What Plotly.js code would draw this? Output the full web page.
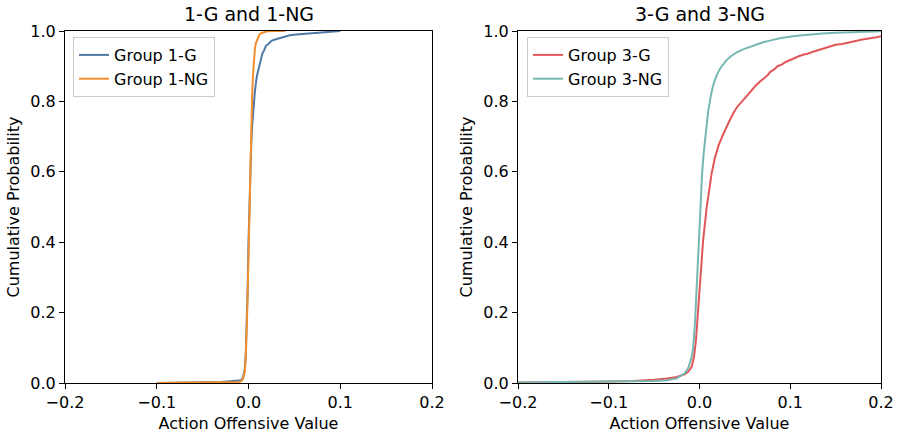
<!DOCTYPE html>
<html>
<head>
<meta charset="utf-8">
<script src="https://cdn.plot.ly/plotly-3.0.1.min.js"></script>
<style>html,body{margin:0;padding:0;background:#fff}#chart{width:898px;height:434px}</style>
</head>
<body>
<div id="chart"></div>
<script>
// Group 1-G (cumulative distribution)
var g1gX = [-0.1, -0.06, -0.03, -0.02, -0.012, -0.008, -0.006, -0.004, -0.003, -0.002, -0.001, 0.0, 0.001, 0.002, 0.003, 0.004, 0.005, 0.006, 0.007, 0.009, 0.011, 0.013, 0.015, 0.017, 0.019, 0.022, 0.025, 0.028, 0.032, 0.036, 0.040, 0.045, 0.052, 0.060, 0.068, 0.076, 0.085, 0.092, 0.1];
var g1gY = [0.0, 0.001, 0.003, 0.005, 0.006, 0.008, 0.015, 0.04, 0.08, 0.15, 0.26, 0.40, 0.52, 0.61, 0.68, 0.73, 0.77, 0.80, 0.83, 0.87, 0.895, 0.92, 0.935, 0.945, 0.958, 0.964, 0.972, 0.975, 0.978, 0.983, 0.986, 0.988, 0.99, 0.992, 0.993, 0.996, 0.997, 0.999, 1.0];
// Group 1-NG
var g1ngX = [-0.1, -0.06, -0.03, -0.015, -0.01, -0.008, -0.006, -0.005, -0.004, -0.003, -0.002, -0.001, 0.0, 0.001, 0.002, 0.003, 0.004, 0.005, 0.006, 0.007, 0.008, 0.010, 0.012, 0.015, 0.02, 0.03, 0.04];
var g1ngY = [0.0, 0.0005, 0.001, 0.002, 0.003, 0.005, 0.012, 0.02, 0.035, 0.07, 0.14, 0.24, 0.36, 0.5, 0.63, 0.74, 0.82, 0.88, 0.92, 0.95, 0.965, 0.98, 0.99, 0.995, 0.999, 1.0, 1.0];
// Group 3-G
var g3gX = [-0.25, -0.2, -0.15, -0.135, -0.1, -0.073, -0.05, -0.036, -0.025, -0.016, -0.012, -0.0086, -0.006, -0.0039, -0.0013, 0.001, 0.004, 0.008, 0.0105, 0.0134, 0.017, 0.021, 0.025, 0.029, 0.033, 0.038, 0.042, 0.047, 0.053, 0.058, 0.062, 0.067, 0.071, 0.075, 0.078, 0.082, 0.086, 0.091, 0.095, 0.1, 0.104, 0.11, 0.115, 0.12, 0.126, 0.132, 0.138, 0.144, 0.15, 0.157, 0.164, 0.171, 0.178, 0.184, 0.19, 0.195, 0.2, 0.21];
var g3gY = [0.0, 0.001, 0.002, 0.003, 0.004, 0.006, 0.009, 0.013, 0.017, 0.025, 0.033, 0.046, 0.075, 0.122, 0.217, 0.312, 0.406, 0.5, 0.55, 0.596, 0.64, 0.675, 0.70, 0.724, 0.745, 0.77, 0.786, 0.8, 0.819, 0.834, 0.845, 0.857, 0.866, 0.874, 0.884, 0.89, 0.9, 0.905, 0.912, 0.918, 0.923, 0.929, 0.933, 0.936, 0.942, 0.947, 0.952, 0.956, 0.961, 0.963, 0.968, 0.971, 0.975, 0.977, 0.98, 0.982, 0.985, 0.987];
// Group 3-NG
var g3ngX = [-0.25, -0.2, -0.15, -0.1, -0.07, -0.05, -0.036, -0.025, -0.016, -0.012, -0.0086, -0.007, -0.005, -0.0025, 0.0, 0.001, 0.003, 0.0045, 0.006, 0.0075, 0.0095, 0.0124, 0.015, 0.018, 0.021, 0.025, 0.03, 0.035, 0.041, 0.048, 0.055, 0.062, 0.07, 0.08, 0.09, 0.105, 0.12, 0.135, 0.15, 0.17, 0.19, 0.21];
var g3ngY = [0.0, 0.001, 0.002, 0.003, 0.004, 0.006, 0.008, 0.013, 0.028, 0.045, 0.075, 0.1, 0.17, 0.31, 0.45, 0.5, 0.6, 0.65, 0.69, 0.73, 0.77, 0.815, 0.845, 0.868, 0.886, 0.902, 0.918, 0.929, 0.939, 0.948, 0.955, 0.962, 0.968, 0.974, 0.98, 0.986, 0.99, 0.993, 0.995, 0.997, 0.999, 1.0];

var xTicks = [-0.2, -0.1, 0.0, 0.1, 0.2];
var yTicks = [0.0, 0.2, 0.4, 0.6, 0.8, 1.0];
var seriesNames = ["Group 1-G", "Group 1-NG", "Group 3-G", "Group 3-NG"];
var subplotTitles = ["1-G and 1-NG", "3-G and 3-NG"];
var xLabel = "Action Offensive Value";
var yLabel = "Cumulative Probability";

var FONT = "DejaVu Sans, Liberation Sans, sans-serif";
var W = 898, H = 434;
var L1 = 65, R1 = 432, L2 = 518, R2 = 881, T = 31, B = 383;

var traces = [
  {x: g1gX, y: g1gY, name: seriesNames[0], xaxis: "x", yaxis: "y", legend: "legend",
   mode: "lines", line: {color: "#4e79a7", width: 2}},
  {x: g1ngX, y: g1ngY, name: seriesNames[1], xaxis: "x", yaxis: "y", legend: "legend",
   mode: "lines", line: {color: "#f28e2b", width: 2}},
  {x: g3gX, y: g3gY, name: seriesNames[2], xaxis: "x2", yaxis: "y2", legend: "legend2",
   mode: "lines", line: {color: "#e15759", width: 2}},
  {x: g3ngX, y: g3ngY, name: seriesNames[3], xaxis: "x2", yaxis: "y2", legend: "legend2",
   mode: "lines", line: {color: "#76b7b2", width: 2}}
];

function xa(dom, anchor) {
  return {domain: dom, anchor: anchor, range: [-0.2, 0.2], tickvals: xTicks, tickformat: ".1f",
    showgrid: false, zeroline: false, showline: true, mirror: true, linecolor: "#000", linewidth: 1,
    ticks: "outside", ticklen: 5, tickcolor: "#000", tickfont: {family: FONT, size: 16, color: "#000"},
    automargin: false,
    title: {text: xLabel, font: {family: FONT, size: 16, color: "#000"}, standoff: 6}};
}
function ya(dom, anchor) {
  return {domain: dom, anchor: anchor, range: [0, 1], tickvals: yTicks, tickformat: ".1f",
    showgrid: false, zeroline: false, showline: true, mirror: true, linecolor: "#000", linewidth: 1,
    ticks: "outside", ticklen: 5, tickcolor: "#000", tickfont: {family: FONT, size: 16, color: "#000"},
    automargin: false,
    title: {text: yLabel, font: {family: FONT, size: 16, color: "#000"}, standoff: 6}};
}
var yDom = [(H - B) / H, (H - T) / H];

var legendBase = {
  bgcolor: "rgba(255,255,255,0.8)", bordercolor: "#cccccc", borderwidth: 1,
  font: {family: FONT, size: 16, color: "#000"}, xanchor: "left", yanchor: "top",
  traceorder: "normal"
};

var layout = {
  width: W, height: H, margin: {l: 0, r: 0, t: 0, b: 0},
  paper_bgcolor: "#fff", plot_bgcolor: "#fff", showlegend: true,
  xaxis: xa([L1 / W, R1 / W], "y"),
  yaxis: ya(yDom, "x"),
  xaxis2: xa([L2 / W, R2 / W], "y2"),
  yaxis2: ya(yDom, "x2"),
  legend: Object.assign({}, legendBase, {x: 73 / W, y: (H - 37) / H}),
  legend2: Object.assign({}, legendBase, {x: 527 / W, y: (H - 37) / H}),
  annotations: [
    {text: subplotTitles[0], xref: "paper", yref: "paper", x: ((L1 + R1) / 2) / W, y: (H - 14) / H,
     xanchor: "center", yanchor: "middle", showarrow: false, font: {family: FONT, size: 19, color: "#000"}},
    {text: subplotTitles[1], xref: "paper", yref: "paper", x: ((L2 + R2) / 2) / W, y: (H - 14) / H,
     xanchor: "center", yanchor: "middle", showarrow: false, font: {family: FONT, size: 19, color: "#000"}}
  ]
};

Plotly.newPlot("chart", traces, layout, {displayModeBar: false, staticPlot: true});
</script>
</body>
</html>
